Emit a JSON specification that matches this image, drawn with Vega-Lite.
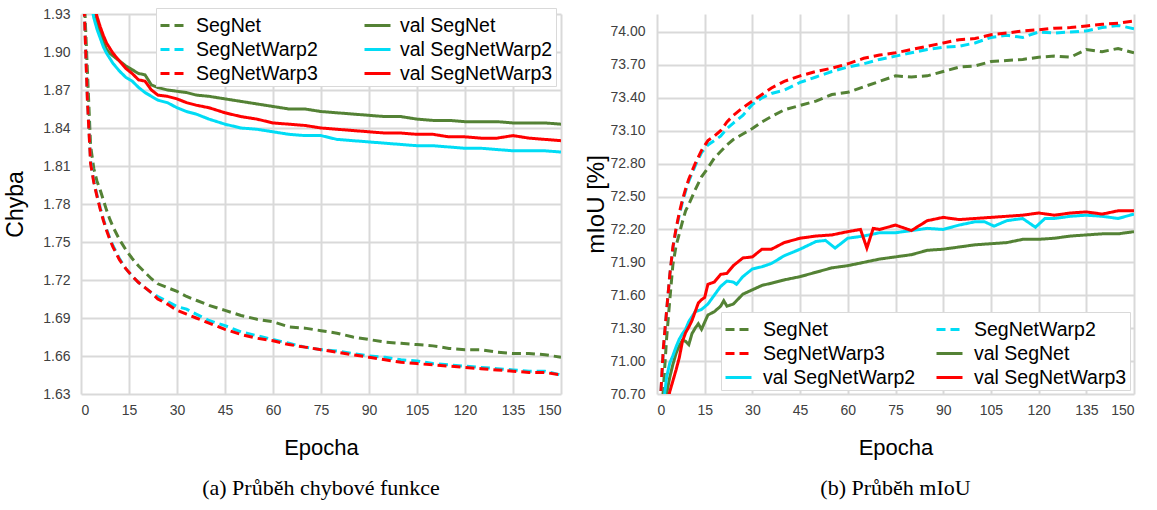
{
"$schema":"https://vega.github.io/schema/vega-lite/v6.json",
"padding":{"left":4,"top":7,"right":5,"bottom":5},
"background":"white",
"bounds":"flush",
"spacing":96,
"config":{
 "view":{"stroke":null},
 "axis":{"grid":true,"gridColor":"#d9d9d9","gridWidth":2,"domain":false,"ticks":false,"labelFont":"Liberation Sans","labelFontSize":14,"labelColor":"#404040","titleFont":"Liberation Sans","titleFontWeight":"normal","titleColor":"#000000"}
},
"datasets":{
"loss":[
{"s":"SegNet","e":1,"v":1.945},{"s":"SegNet","e":2,"v":1.885},{"s":"SegNet","e":3,"v":1.826},{"s":"SegNet","e":4,"v":1.808},{"s":"SegNet","e":5,"v":1.798},{"s":"SegNet","e":6,"v":1.791},{"s":"SegNet","e":7,"v":1.783},{"s":"SegNet","e":8,"v":1.775},{"s":"SegNet","e":9,"v":1.768},{"s":"SegNet","e":10,"v":1.762},
{"s":"SegNet","e":12,"v":1.752},{"s":"SegNet","e":14,"v":1.744},{"s":"SegNet","e":16,"v":1.737},{"s":"SegNet","e":18,"v":1.731},{"s":"SegNet","e":20,"v":1.726},{"s":"SegNet","e":22,"v":1.721},{"s":"SegNet","e":24,"v":1.717},{"s":"SegNet","e":27,"v":1.714},{"s":"SegNet","e":30,"v":1.711},{"s":"SegNet","e":33,"v":1.707},
{"s":"SegNet","e":36,"v":1.704},{"s":"SegNet","e":40,"v":1.700},{"s":"SegNet","e":45,"v":1.696},{"s":"SegNet","e":50,"v":1.692},{"s":"SegNet","e":55,"v":1.689},{"s":"SegNet","e":60,"v":1.687},{"s":"SegNet","e":65,"v":1.683},{"s":"SegNet","e":70,"v":1.682},{"s":"SegNet","e":75,"v":1.680},{"s":"SegNet","e":80,"v":1.678},
{"s":"SegNet","e":85,"v":1.675},{"s":"SegNet","e":90,"v":1.673},{"s":"SegNet","e":95,"v":1.671},{"s":"SegNet","e":100,"v":1.670},{"s":"SegNet","e":105,"v":1.669},{"s":"SegNet","e":110,"v":1.668},{"s":"SegNet","e":115,"v":1.666},{"s":"SegNet","e":120,"v":1.665},{"s":"SegNet","e":125,"v":1.665},{"s":"SegNet","e":130,"v":1.663},
{"s":"SegNet","e":135,"v":1.662},{"s":"SegNet","e":140,"v":1.662},{"s":"SegNet","e":145,"v":1.661},{"s":"SegNet","e":150,"v":1.659},
{"s":"SegNetWarp2","e":1,"v":1.935},{"s":"SegNetWarp2","e":2,"v":1.864},{"s":"SegNetWarp2","e":3,"v":1.814},{"s":"SegNetWarp2","e":4,"v":1.798},{"s":"SegNetWarp2","e":5,"v":1.787},{"s":"SegNetWarp2","e":6,"v":1.777},{"s":"SegNetWarp2","e":7,"v":1.768},{"s":"SegNetWarp2","e":8,"v":1.760},{"s":"SegNetWarp2","e":9,"v":1.753},{"s":"SegNetWarp2","e":10,"v":1.747},
{"s":"SegNetWarp2","e":12,"v":1.737},{"s":"SegNetWarp2","e":14,"v":1.729},{"s":"SegNetWarp2","e":16,"v":1.723},{"s":"SegNetWarp2","e":18,"v":1.718},{"s":"SegNetWarp2","e":20,"v":1.714},{"s":"SegNetWarp2","e":22,"v":1.710},{"s":"SegNetWarp2","e":24,"v":1.707},{"s":"SegNetWarp2","e":27,"v":1.703},{"s":"SegNetWarp2","e":30,"v":1.699},{"s":"SegNetWarp2","e":33,"v":1.697},
{"s":"SegNetWarp2","e":36,"v":1.693},{"s":"SegNetWarp2","e":40,"v":1.688},{"s":"SegNetWarp2","e":45,"v":1.684},{"s":"SegNetWarp2","e":50,"v":1.679},{"s":"SegNetWarp2","e":55,"v":1.676},{"s":"SegNetWarp2","e":60,"v":1.673},{"s":"SegNetWarp2","e":65,"v":1.670},{"s":"SegNetWarp2","e":70,"v":1.667},{"s":"SegNetWarp2","e":75,"v":1.665},{"s":"SegNetWarp2","e":80,"v":1.664},
{"s":"SegNetWarp2","e":85,"v":1.662},{"s":"SegNetWarp2","e":90,"v":1.660},{"s":"SegNetWarp2","e":95,"v":1.659},{"s":"SegNetWarp2","e":100,"v":1.657},{"s":"SegNetWarp2","e":105,"v":1.656},{"s":"SegNetWarp2","e":110,"v":1.654},{"s":"SegNetWarp2","e":115,"v":1.653},{"s":"SegNetWarp2","e":120,"v":1.652},{"s":"SegNetWarp2","e":125,"v":1.651},{"s":"SegNetWarp2","e":130,"v":1.650},
{"s":"SegNetWarp2","e":135,"v":1.649},{"s":"SegNetWarp2","e":140,"v":1.648},{"s":"SegNetWarp2","e":145,"v":1.648},{"s":"SegNetWarp2","e":150,"v":1.645},
{"s":"SegNetWarp3","e":1,"v":1.935},{"s":"SegNetWarp3","e":2,"v":1.862},{"s":"SegNetWarp3","e":3,"v":1.812},{"s":"SegNetWarp3","e":4,"v":1.797},{"s":"SegNetWarp3","e":5,"v":1.786},{"s":"SegNetWarp3","e":6,"v":1.776},{"s":"SegNetWarp3","e":7,"v":1.767},{"s":"SegNetWarp3","e":8,"v":1.759},{"s":"SegNetWarp3","e":9,"v":1.752},{"s":"SegNetWarp3","e":10,"v":1.746},
{"s":"SegNetWarp3","e":12,"v":1.736},{"s":"SegNetWarp3","e":14,"v":1.729},{"s":"SegNetWarp3","e":16,"v":1.723},{"s":"SegNetWarp3","e":18,"v":1.718},{"s":"SegNetWarp3","e":20,"v":1.714},{"s":"SegNetWarp3","e":22,"v":1.710},{"s":"SegNetWarp3","e":24,"v":1.705},{"s":"SegNetWarp3","e":27,"v":1.701},{"s":"SegNetWarp3","e":30,"v":1.696},{"s":"SegNetWarp3","e":33,"v":1.693},
{"s":"SegNetWarp3","e":36,"v":1.690},{"s":"SegNetWarp3","e":40,"v":1.686},{"s":"SegNetWarp3","e":45,"v":1.681},{"s":"SegNetWarp3","e":50,"v":1.677},{"s":"SegNetWarp3","e":55,"v":1.674},{"s":"SegNetWarp3","e":60,"v":1.672},{"s":"SegNetWarp3","e":65,"v":1.669},{"s":"SegNetWarp3","e":70,"v":1.667},{"s":"SegNetWarp3","e":75,"v":1.665},{"s":"SegNetWarp3","e":80,"v":1.663},
{"s":"SegNetWarp3","e":85,"v":1.661},{"s":"SegNetWarp3","e":90,"v":1.659},{"s":"SegNetWarp3","e":95,"v":1.657},{"s":"SegNetWarp3","e":100,"v":1.655},{"s":"SegNetWarp3","e":105,"v":1.654},{"s":"SegNetWarp3","e":110,"v":1.653},{"s":"SegNetWarp3","e":115,"v":1.652},{"s":"SegNetWarp3","e":120,"v":1.651},{"s":"SegNetWarp3","e":125,"v":1.650},{"s":"SegNetWarp3","e":130,"v":1.649},
{"s":"SegNetWarp3","e":135,"v":1.648},{"s":"SegNetWarp3","e":140,"v":1.647},{"s":"SegNetWarp3","e":145,"v":1.647},{"s":"SegNetWarp3","e":150,"v":1.645},
{"s":"val SegNet","e":1,"v":2.00},{"s":"val SegNet","e":2,"v":1.97},{"s":"val SegNet","e":3,"v":1.945},{"s":"val SegNet","e":4,"v":1.932},{"s":"val SegNet","e":5,"v":1.923},{"s":"val SegNet","e":6,"v":1.915},{"s":"val SegNet","e":7,"v":1.908},{"s":"val SegNet","e":8,"v":1.902},{"s":"val SegNet","e":9,"v":1.899},{"s":"val SegNet","e":10,"v":1.897},
{"s":"val SegNet","e":12,"v":1.893},{"s":"val SegNet","e":14,"v":1.889},{"s":"val SegNet","e":16,"v":1.886},{"s":"val SegNet","e":18,"v":1.883},{"s":"val SegNet","e":20,"v":1.882},{"s":"val SegNet","e":22,"v":1.874},{"s":"val SegNet","e":24,"v":1.872},{"s":"val SegNet","e":27,"v":1.870},{"s":"val SegNet","e":30,"v":1.869},{"s":"val SegNet","e":33,"v":1.868},
{"s":"val SegNet","e":36,"v":1.866},{"s":"val SegNet","e":40,"v":1.865},{"s":"val SegNet","e":45,"v":1.863},{"s":"val SegNet","e":50,"v":1.861},{"s":"val SegNet","e":55,"v":1.859},{"s":"val SegNet","e":60,"v":1.857},{"s":"val SegNet","e":65,"v":1.855},{"s":"val SegNet","e":70,"v":1.855},{"s":"val SegNet","e":75,"v":1.853},{"s":"val SegNet","e":80,"v":1.852},
{"s":"val SegNet","e":85,"v":1.851},{"s":"val SegNet","e":90,"v":1.850},{"s":"val SegNet","e":95,"v":1.849},{"s":"val SegNet","e":100,"v":1.849},{"s":"val SegNet","e":105,"v":1.847},{"s":"val SegNet","e":110,"v":1.846},{"s":"val SegNet","e":115,"v":1.846},{"s":"val SegNet","e":120,"v":1.845},{"s":"val SegNet","e":125,"v":1.845},{"s":"val SegNet","e":130,"v":1.845},
{"s":"val SegNet","e":135,"v":1.844},{"s":"val SegNet","e":140,"v":1.844},{"s":"val SegNet","e":145,"v":1.844},{"s":"val SegNet","e":150,"v":1.843},
{"s":"val SegNetWarp2","e":1,"v":2.00},{"s":"val SegNetWarp2","e":2,"v":1.965},{"s":"val SegNetWarp2","e":3,"v":1.94},{"s":"val SegNetWarp2","e":4,"v":1.927},{"s":"val SegNetWarp2","e":5,"v":1.918},{"s":"val SegNetWarp2","e":6,"v":1.911},{"s":"val SegNetWarp2","e":7,"v":1.904},{"s":"val SegNetWarp2","e":8,"v":1.899},{"s":"val SegNetWarp2","e":9,"v":1.895},{"s":"val SegNetWarp2","e":10,"v":1.891},
{"s":"val SegNetWarp2","e":12,"v":1.885},{"s":"val SegNetWarp2","e":14,"v":1.880},{"s":"val SegNetWarp2","e":16,"v":1.877},{"s":"val SegNetWarp2","e":18,"v":1.872},{"s":"val SegNetWarp2","e":20,"v":1.868},{"s":"val SegNetWarp2","e":22,"v":1.865},{"s":"val SegNetWarp2","e":24,"v":1.862},{"s":"val SegNetWarp2","e":27,"v":1.860},{"s":"val SegNetWarp2","e":30,"v":1.856},{"s":"val SegNetWarp2","e":33,"v":1.853},
{"s":"val SegNetWarp2","e":36,"v":1.851},{"s":"val SegNetWarp2","e":40,"v":1.847},{"s":"val SegNetWarp2","e":45,"v":1.843},{"s":"val SegNetWarp2","e":50,"v":1.840},{"s":"val SegNetWarp2","e":55,"v":1.839},{"s":"val SegNetWarp2","e":60,"v":1.837},{"s":"val SegNetWarp2","e":65,"v":1.835},{"s":"val SegNetWarp2","e":70,"v":1.834},{"s":"val SegNetWarp2","e":75,"v":1.834},{"s":"val SegNetWarp2","e":80,"v":1.831},
{"s":"val SegNetWarp2","e":85,"v":1.830},{"s":"val SegNetWarp2","e":90,"v":1.829},{"s":"val SegNetWarp2","e":95,"v":1.828},{"s":"val SegNetWarp2","e":100,"v":1.827},{"s":"val SegNetWarp2","e":105,"v":1.826},{"s":"val SegNetWarp2","e":110,"v":1.826},{"s":"val SegNetWarp2","e":115,"v":1.825},{"s":"val SegNetWarp2","e":120,"v":1.824},{"s":"val SegNetWarp2","e":125,"v":1.824},{"s":"val SegNetWarp2","e":130,"v":1.823},
{"s":"val SegNetWarp2","e":135,"v":1.822},{"s":"val SegNetWarp2","e":140,"v":1.822},{"s":"val SegNetWarp2","e":145,"v":1.822},{"s":"val SegNetWarp2","e":150,"v":1.821},
{"s":"val SegNetWarp3","e":1,"v":2.02},{"s":"val SegNetWarp3","e":2,"v":1.99},{"s":"val SegNetWarp3","e":3,"v":1.96},{"s":"val SegNetWarp3","e":4,"v":1.94},{"s":"val SegNetWarp3","e":5,"v":1.928},{"s":"val SegNetWarp3","e":6,"v":1.920},{"s":"val SegNetWarp3","e":7,"v":1.913},{"s":"val SegNetWarp3","e":8,"v":1.907},{"s":"val SegNetWarp3","e":9,"v":1.903},{"s":"val SegNetWarp3","e":10,"v":1.899},
{"s":"val SegNetWarp3","e":12,"v":1.893},{"s":"val SegNetWarp3","e":14,"v":1.887},{"s":"val SegNetWarp3","e":16,"v":1.883},{"s":"val SegNetWarp3","e":18,"v":1.878},{"s":"val SegNetWarp3","e":20,"v":1.877},{"s":"val SegNetWarp3","e":22,"v":1.870},{"s":"val SegNetWarp3","e":24,"v":1.866},{"s":"val SegNetWarp3","e":27,"v":1.865},{"s":"val SegNetWarp3","e":30,"v":1.863},{"s":"val SegNetWarp3","e":33,"v":1.860},
{"s":"val SegNetWarp3","e":36,"v":1.858},{"s":"val SegNetWarp3","e":40,"v":1.856},{"s":"val SegNetWarp3","e":45,"v":1.852},{"s":"val SegNetWarp3","e":50,"v":1.849},{"s":"val SegNetWarp3","e":55,"v":1.847},{"s":"val SegNetWarp3","e":60,"v":1.844},{"s":"val SegNetWarp3","e":65,"v":1.843},{"s":"val SegNetWarp3","e":70,"v":1.842},{"s":"val SegNetWarp3","e":75,"v":1.840},{"s":"val SegNetWarp3","e":80,"v":1.839},
{"s":"val SegNetWarp3","e":85,"v":1.838},{"s":"val SegNetWarp3","e":90,"v":1.837},{"s":"val SegNetWarp3","e":95,"v":1.836},{"s":"val SegNetWarp3","e":100,"v":1.836},{"s":"val SegNetWarp3","e":105,"v":1.835},{"s":"val SegNetWarp3","e":110,"v":1.835},{"s":"val SegNetWarp3","e":115,"v":1.833},{"s":"val SegNetWarp3","e":120,"v":1.833},{"s":"val SegNetWarp3","e":125,"v":1.832},{"s":"val SegNetWarp3","e":130,"v":1.832},
{"s":"val SegNetWarp3","e":135,"v":1.834},{"s":"val SegNetWarp3","e":140,"v":1.832},{"s":"val SegNetWarp3","e":145,"v":1.831},{"s":"val SegNetWarp3","e":150,"v":1.830}
],
"miou":[
{"s":"SegNet","e":1,"v":70.3},{"s":"SegNet","e":2,"v":70.75},{"s":"SegNet","e":3,"v":71.2},{"s":"SegNet","e":4,"v":71.55},{"s":"SegNet","e":5,"v":71.88},{"s":"SegNet","e":6,"v":72.05},{"s":"SegNet","e":7,"v":72.16},{"s":"SegNet","e":8,"v":72.27},{"s":"SegNet","e":9,"v":72.37},{"s":"SegNet","e":10,"v":72.43},
{"s":"SegNet","e":12,"v":72.56},{"s":"SegNet","e":14,"v":72.68},{"s":"SegNet","e":16,"v":72.76},{"s":"SegNet","e":18,"v":72.85},{"s":"SegNet","e":20,"v":72.91},{"s":"SegNet","e":22,"v":72.97},{"s":"SegNet","e":24,"v":73.02},{"s":"SegNet","e":27,"v":73.07},{"s":"SegNet","e":30,"v":73.12},{"s":"SegNet","e":33,"v":73.18},
{"s":"SegNet","e":36,"v":73.23},{"s":"SegNet","e":40,"v":73.29},{"s":"SegNet","e":45,"v":73.33},{"s":"SegNet","e":50,"v":73.37},{"s":"SegNet","e":55,"v":73.43},{"s":"SegNet","e":60,"v":73.45},{"s":"SegNet","e":65,"v":73.5},{"s":"SegNet","e":70,"v":73.55},{"s":"SegNet","e":75,"v":73.6},{"s":"SegNet","e":80,"v":73.59},
{"s":"SegNet","e":85,"v":73.6},{"s":"SegNet","e":90,"v":73.64},{"s":"SegNet","e":95,"v":73.68},{"s":"SegNet","e":100,"v":73.69},{"s":"SegNet","e":105,"v":73.73},{"s":"SegNet","e":110,"v":73.74},{"s":"SegNet","e":115,"v":73.75},{"s":"SegNet","e":120,"v":73.77},{"s":"SegNet","e":125,"v":73.78},{"s":"SegNet","e":130,"v":73.77},
{"s":"SegNet","e":135,"v":73.84},{"s":"SegNet","e":140,"v":73.82},{"s":"SegNet","e":145,"v":73.85},{"s":"SegNet","e":150,"v":73.81},
{"s":"SegNetWarp2","e":1,"v":70.6},{"s":"SegNetWarp2","e":2,"v":71.1},{"s":"SegNetWarp2","e":3,"v":71.45},{"s":"SegNetWarp2","e":4,"v":71.78},{"s":"SegNetWarp2","e":5,"v":72.03},{"s":"SegNetWarp2","e":6,"v":72.2},{"s":"SegNetWarp2","e":7,"v":72.33},{"s":"SegNetWarp2","e":8,"v":72.45},{"s":"SegNetWarp2","e":9,"v":72.55},{"s":"SegNetWarp2","e":10,"v":72.64},
{"s":"SegNetWarp2","e":12,"v":72.78},{"s":"SegNetWarp2","e":14,"v":72.9},{"s":"SegNetWarp2","e":16,"v":72.97},{"s":"SegNetWarp2","e":18,"v":73.01},{"s":"SegNetWarp2","e":20,"v":73.05},{"s":"SegNetWarp2","e":22,"v":73.12},{"s":"SegNetWarp2","e":24,"v":73.17},{"s":"SegNetWarp2","e":27,"v":73.24},{"s":"SegNetWarp2","e":30,"v":73.34},{"s":"SegNetWarp2","e":33,"v":73.4},
{"s":"SegNetWarp2","e":36,"v":73.44},{"s":"SegNetWarp2","e":40,"v":73.47},{"s":"SegNetWarp2","e":45,"v":73.54},{"s":"SegNetWarp2","e":50,"v":73.59},{"s":"SegNetWarp2","e":55,"v":73.64},{"s":"SegNetWarp2","e":60,"v":73.68},{"s":"SegNetWarp2","e":65,"v":73.71},{"s":"SegNetWarp2","e":70,"v":73.75},{"s":"SegNetWarp2","e":75,"v":73.78},{"s":"SegNetWarp2","e":80,"v":73.81},
{"s":"SegNetWarp2","e":85,"v":73.84},{"s":"SegNetWarp2","e":90,"v":73.86},{"s":"SegNetWarp2","e":95,"v":73.87},{"s":"SegNetWarp2","e":100,"v":73.9},{"s":"SegNetWarp2","e":105,"v":73.95},{"s":"SegNetWarp2","e":110,"v":73.97},{"s":"SegNetWarp2","e":115,"v":73.95},{"s":"SegNetWarp2","e":120,"v":74.0},{"s":"SegNetWarp2","e":125,"v":73.99},{"s":"SegNetWarp2","e":130,"v":74.0},
{"s":"SegNetWarp2","e":135,"v":74.01},{"s":"SegNetWarp2","e":140,"v":74.04},{"s":"SegNetWarp2","e":145,"v":74.06},{"s":"SegNetWarp2","e":150,"v":74.03},
{"s":"SegNetWarp3","e":1,"v":70.6},{"s":"SegNetWarp3","e":2,"v":71.12},{"s":"SegNetWarp3","e":3,"v":71.45},{"s":"SegNetWarp3","e":4,"v":71.78},{"s":"SegNetWarp3","e":5,"v":72.04},{"s":"SegNetWarp3","e":6,"v":72.21},{"s":"SegNetWarp3","e":7,"v":72.35},{"s":"SegNetWarp3","e":8,"v":72.47},{"s":"SegNetWarp3","e":9,"v":72.57},{"s":"SegNetWarp3","e":10,"v":72.66},
{"s":"SegNetWarp3","e":12,"v":72.8},{"s":"SegNetWarp3","e":14,"v":72.92},{"s":"SegNetWarp3","e":16,"v":73.01},{"s":"SegNetWarp3","e":18,"v":73.05},{"s":"SegNetWarp3","e":20,"v":73.1},{"s":"SegNetWarp3","e":22,"v":73.18},{"s":"SegNetWarp3","e":24,"v":73.24},{"s":"SegNetWarp3","e":27,"v":73.31},{"s":"SegNetWarp3","e":30,"v":73.37},{"s":"SegNetWarp3","e":33,"v":73.43},
{"s":"SegNetWarp3","e":36,"v":73.49},{"s":"SegNetWarp3","e":40,"v":73.55},{"s":"SegNetWarp3","e":45,"v":73.6},{"s":"SegNetWarp3","e":50,"v":73.64},{"s":"SegNetWarp3","e":55,"v":73.67},{"s":"SegNetWarp3","e":60,"v":73.71},{"s":"SegNetWarp3","e":65,"v":73.76},{"s":"SegNetWarp3","e":70,"v":73.79},{"s":"SegNetWarp3","e":75,"v":73.81},{"s":"SegNetWarp3","e":80,"v":73.84},
{"s":"SegNetWarp3","e":85,"v":73.87},{"s":"SegNetWarp3","e":90,"v":73.9},{"s":"SegNetWarp3","e":95,"v":73.93},{"s":"SegNetWarp3","e":100,"v":73.94},{"s":"SegNetWarp3","e":105,"v":73.975},{"s":"SegNetWarp3","e":110,"v":73.99},{"s":"SegNetWarp3","e":115,"v":74.01},{"s":"SegNetWarp3","e":120,"v":74.02},{"s":"SegNetWarp3","e":125,"v":74.035},{"s":"SegNetWarp3","e":130,"v":74.04},
{"s":"SegNetWarp3","e":135,"v":74.055},{"s":"SegNetWarp3","e":140,"v":74.07},{"s":"SegNetWarp3","e":145,"v":74.08},{"s":"SegNetWarp3","e":150,"v":74.1},
{"s":"val SegNet","e":1,"v":70.3},{"s":"val SegNet","e":2,"v":70.5},{"s":"val SegNet","e":3,"v":70.7},{"s":"val SegNet","e":4,"v":70.85},{"s":"val SegNet","e":5,"v":70.97},{"s":"val SegNet","e":6,"v":71.07},{"s":"val SegNet","e":7,"v":71.14},{"s":"val SegNet","e":8,"v":71.19},{"s":"val SegNet","e":9,"v":71.18},{"s":"val SegNet","e":10,"v":71.15},
{"s":"val SegNet","e":11,"v":71.25},{"s":"val SegNet","e":12,"v":71.3},{"s":"val SegNet","e":13,"v":71.34},{"s":"val SegNet","e":14,"v":71.29},{"s":"val SegNet","e":16,"v":71.42},{"s":"val SegNet","e":18,"v":71.45},{"s":"val SegNet","e":20,"v":71.5},{"s":"val SegNet","e":21,"v":71.55},{"s":"val SegNet","e":22,"v":71.5},{"s":"val SegNet","e":24,"v":71.52},
{"s":"val SegNet","e":27,"v":71.61},{"s":"val SegNet","e":30,"v":71.65},{"s":"val SegNet","e":33,"v":71.69},{"s":"val SegNet","e":36,"v":71.71},{"s":"val SegNet","e":40,"v":71.74},{"s":"val SegNet","e":45,"v":71.77},{"s":"val SegNet","e":50,"v":71.81},{"s":"val SegNet","e":55,"v":71.85},{"s":"val SegNet","e":60,"v":71.87},{"s":"val SegNet","e":65,"v":71.9},
{"s":"val SegNet","e":70,"v":71.93},{"s":"val SegNet","e":75,"v":71.95},{"s":"val SegNet","e":80,"v":71.97},{"s":"val SegNet","e":85,"v":72.01},{"s":"val SegNet","e":90,"v":72.02},{"s":"val SegNet","e":95,"v":72.04},{"s":"val SegNet","e":100,"v":72.06},{"s":"val SegNet","e":105,"v":72.07},{"s":"val SegNet","e":110,"v":72.08},{"s":"val SegNet","e":115,"v":72.11},
{"s":"val SegNet","e":120,"v":72.11},{"s":"val SegNet","e":125,"v":72.12},{"s":"val SegNet","e":130,"v":72.14},{"s":"val SegNet","e":135,"v":72.15},{"s":"val SegNet","e":140,"v":72.16},{"s":"val SegNet","e":145,"v":72.16},{"s":"val SegNet","e":150,"v":72.18},
{"s":"val SegNetWarp2","e":1,"v":70.3},{"s":"val SegNetWarp2","e":2,"v":70.6},{"s":"val SegNetWarp2","e":3,"v":70.85},{"s":"val SegNetWarp2","e":4,"v":70.98},{"s":"val SegNetWarp2","e":5,"v":71.05},{"s":"val SegNetWarp2","e":6,"v":71.13},{"s":"val SegNetWarp2","e":7,"v":71.2},{"s":"val SegNetWarp2","e":8,"v":71.25},{"s":"val SegNetWarp2","e":9,"v":71.29},{"s":"val SegNetWarp2","e":10,"v":71.36},
{"s":"val SegNetWarp2","e":12,"v":71.45},{"s":"val SegNetWarp2","e":14,"v":71.47},{"s":"val SegNetWarp2","e":16,"v":71.52},{"s":"val SegNetWarp2","e":18,"v":71.6},{"s":"val SegNetWarp2","e":20,"v":71.68},{"s":"val SegNetWarp2","e":22,"v":71.73},{"s":"val SegNetWarp2","e":24,"v":71.72},{"s":"val SegNetWarp2","e":25,"v":71.7},{"s":"val SegNetWarp2","e":27,"v":71.77},{"s":"val SegNetWarp2","e":30,"v":71.84},
{"s":"val SegNetWarp2","e":33,"v":71.86},{"s":"val SegNetWarp2","e":36,"v":71.89},{"s":"val SegNetWarp2","e":40,"v":71.96},{"s":"val SegNetWarp2","e":45,"v":72.02},{"s":"val SegNetWarp2","e":50,"v":72.09},{"s":"val SegNetWarp2","e":53,"v":72.1},{"s":"val SegNetWarp2","e":56,"v":72.03},{"s":"val SegNetWarp2","e":60,"v":72.12},{"s":"val SegNetWarp2","e":65,"v":72.14},{"s":"val SegNetWarp2","e":70,"v":72.17},
{"s":"val SegNetWarp2","e":75,"v":72.17},{"s":"val SegNetWarp2","e":80,"v":72.19},{"s":"val SegNetWarp2","e":85,"v":72.21},{"s":"val SegNetWarp2","e":90,"v":72.2},{"s":"val SegNetWarp2","e":95,"v":72.24},{"s":"val SegNetWarp2","e":100,"v":72.27},{"s":"val SegNetWarp2","e":103,"v":72.27},{"s":"val SegNetWarp2","e":106,"v":72.23},{"s":"val SegNetWarp2","e":110,"v":72.28},{"s":"val SegNetWarp2","e":115,"v":72.3},
{"s":"val SegNetWarp2","e":119,"v":72.22},{"s":"val SegNetWarp2","e":122,"v":72.3},{"s":"val SegNetWarp2","e":125,"v":72.3},{"s":"val SegNetWarp2","e":130,"v":72.32},{"s":"val SegNetWarp2","e":135,"v":72.33},{"s":"val SegNetWarp2","e":140,"v":72.32},{"s":"val SegNetWarp2","e":145,"v":72.3},{"s":"val SegNetWarp2","e":150,"v":72.34},
{"s":"val SegNetWarp3","e":1,"v":70.2},{"s":"val SegNetWarp3","e":2,"v":70.4},{"s":"val SegNetWarp3","e":3,"v":70.58},{"s":"val SegNetWarp3","e":4,"v":70.72},{"s":"val SegNetWarp3","e":5,"v":70.82},{"s":"val SegNetWarp3","e":6,"v":70.92},{"s":"val SegNetWarp3","e":7,"v":71.03},{"s":"val SegNetWarp3","e":8,"v":71.18},{"s":"val SegNetWarp3","e":9,"v":71.26},{"s":"val SegNetWarp3","e":10,"v":71.31},
{"s":"val SegNetWarp3","e":11,"v":71.37},{"s":"val SegNetWarp3","e":12,"v":71.45},{"s":"val SegNetWarp3","e":13,"v":71.53},{"s":"val SegNetWarp3","e":14,"v":71.56},{"s":"val SegNetWarp3","e":15,"v":71.58},{"s":"val SegNetWarp3","e":16,"v":71.7},{"s":"val SegNetWarp3","e":18,"v":71.72},{"s":"val SegNetWarp3","e":20,"v":71.79},{"s":"val SegNetWarp3","e":22,"v":71.8},{"s":"val SegNetWarp3","e":24,"v":71.87},
{"s":"val SegNetWarp3","e":27,"v":71.94},{"s":"val SegNetWarp3","e":30,"v":71.95},{"s":"val SegNetWarp3","e":33,"v":72.02},{"s":"val SegNetWarp3","e":36,"v":72.02},{"s":"val SegNetWarp3","e":40,"v":72.08},{"s":"val SegNetWarp3","e":45,"v":72.12},{"s":"val SegNetWarp3","e":50,"v":72.14},{"s":"val SegNetWarp3","e":55,"v":72.15},{"s":"val SegNetWarp3","e":60,"v":72.18},{"s":"val SegNetWarp3","e":64,"v":72.2},
{"s":"val SegNetWarp3","e":66,"v":72.03},{"s":"val SegNetWarp3","e":68,"v":72.21},{"s":"val SegNetWarp3","e":70,"v":72.2},{"s":"val SegNetWarp3","e":75,"v":72.24},{"s":"val SegNetWarp3","e":80,"v":72.19},{"s":"val SegNetWarp3","e":85,"v":72.28},{"s":"val SegNetWarp3","e":90,"v":72.31},{"s":"val SegNetWarp3","e":95,"v":72.29},{"s":"val SegNetWarp3","e":100,"v":72.3},{"s":"val SegNetWarp3","e":105,"v":72.31},
{"s":"val SegNetWarp3","e":110,"v":72.32},{"s":"val SegNetWarp3","e":115,"v":72.33},{"s":"val SegNetWarp3","e":120,"v":72.35},{"s":"val SegNetWarp3","e":125,"v":72.33},{"s":"val SegNetWarp3","e":130,"v":72.35},{"s":"val SegNetWarp3","e":135,"v":72.36},{"s":"val SegNetWarp3","e":140,"v":72.34},{"s":"val SegNetWarp3","e":145,"v":72.37},{"s":"val SegNetWarp3","e":150,"v":72.37}
]
},
"hconcat":[
{
 "width":480,"height":380,
 "data":{"name":"loss"},
 "title":{"text":"(a) Průběh chybové funkce","orient":"bottom","frame":"group","anchor":"middle","font":"Liberation Serif","fontSize":22,"fontWeight":"normal","color":"#000000","offset":20},
 "mark":{"type":"line","clip":true,"strokeWidth":3},
 "encoding":{
  "x":{"field":"e","type":"quantitative","scale":{"domain":[0,150],"nice":false},"axis":{"values":[0,15,30,45,60,75,90,105,120,135,150],"title":"Epocha","titleFontSize":22,"labelPadding":9,"titlePadding":20}},
  "y":{"field":"v","type":"quantitative","scale":{"domain":[1.63,1.93],"nice":false,"zero":false},"axis":{"values":[1.63,1.66,1.69,1.72,1.75,1.78,1.81,1.84,1.87,1.9,1.93],"format":".2f","title":"Chyba","titleFontSize":23,"labelPadding":11,"titlePadding":15}},
  "color":{"field":"s","type":"nominal","scale":{"domain":["SegNet","SegNetWarp2","SegNetWarp3","val SegNet","val SegNetWarp2","val SegNetWarp3"],"range":["#548235","#00dcf5","#ff0000","#548235","#00dcf5","#ff0000"]},
   "legend":{"title":null,"orient":"none","legendX":75,"legendY":-6,"columns":2,"columnPadding":40,"rowPadding":0,"padding":3,"symbolType":"stroke","symbolSize":676,"symbolStrokeWidth":3,"labelFont":"Liberation Sans","labelFontSize":19.5,"labelColor":"#000000","labelOffset":8,"labelLimit":0,"fillColor":"white","strokeColor":"#d9d9d9"}},
  "strokeDash":{"field":"s","type":"nominal","scale":{"domain":["SegNet","SegNetWarp2","SegNetWarp3","val SegNet","val SegNetWarp2","val SegNetWarp3"],"range":[[9,5],[9,5],[9,5],[1,0],[1,0],[1,0]]},
   "legend":{"title":null,"orient":"none","legendX":75,"legendY":-6,"columns":2,"columnPadding":40,"rowPadding":0,"padding":3,"symbolType":"stroke","symbolSize":676,"symbolStrokeWidth":3,"labelFont":"Liberation Sans","labelFontSize":19.5,"labelColor":"#000000","labelOffset":8,"labelLimit":0,"fillColor":"white","strokeColor":"#d9d9d9"}}
 }
},
{
 "width":477,"height":380,
 "data":{"name":"miou"},
 "title":{"text":"(b) Průběh mIoU","orient":"bottom","frame":"group","anchor":"middle","font":"Liberation Serif","fontSize":22,"fontWeight":"normal","color":"#000000","offset":20},
 "mark":{"type":"line","clip":true,"strokeWidth":3},
 "encoding":{
  "x":{"field":"e","type":"quantitative","scale":{"domain":[0,150],"nice":false},"axis":{"values":[0,15,30,45,60,75,90,105,120,135,150],"title":"Epocha","titleFontSize":22,"labelPadding":9,"titlePadding":20}},
  "y":{"field":"v","type":"quantitative","scale":{"domain":[70.7,74.164],"nice":false,"zero":false},"axis":{"values":[70.7,71.0,71.3,71.6,71.9,72.2,72.5,72.8,73.1,73.4,73.7,74.0],"format":".2f","title":"mIoU [%]","titleFontSize":24,"labelPadding":12,"titlePadding":1}},
  "color":{"field":"s","type":"nominal","scale":{"domain":["SegNet","SegNetWarp3","val SegNetWarp2","SegNetWarp2","val SegNet","val SegNetWarp3"],"range":["#548235","#ff0000","#00dcf5","#00dcf5","#548235","#ff0000"]},
   "legend":{"title":null,"orient":"none","legendX":64,"legendY":298,"columns":2,"columnPadding":14,"rowPadding":0,"padding":3,"symbolType":"stroke","symbolSize":676,"symbolStrokeWidth":3,"labelFont":"Liberation Sans","labelFontSize":19.5,"labelColor":"#000000","labelOffset":10,"labelLimit":0,"fillColor":"white","strokeColor":"#d9d9d9"}},
  "strokeDash":{"field":"s","type":"nominal","scale":{"domain":["SegNet","SegNetWarp3","val SegNetWarp2","SegNetWarp2","val SegNet","val SegNetWarp3"],"range":[[9,5],[9,5],[1,0],[9,5],[1,0],[1,0]]},
   "legend":{"title":null,"orient":"none","legendX":64,"legendY":298,"columns":2,"columnPadding":14,"rowPadding":0,"padding":3,"symbolType":"stroke","symbolSize":676,"symbolStrokeWidth":3,"labelFont":"Liberation Sans","labelFontSize":19.5,"labelColor":"#000000","labelOffset":10,"labelLimit":0,"fillColor":"white","strokeColor":"#d9d9d9"}}
 }
}
],
"resolve":{"scale":{"color":"independent","strokeDash":"independent","x":"independent","y":"independent"},"legend":{"color":"independent","strokeDash":"independent"}}
}
